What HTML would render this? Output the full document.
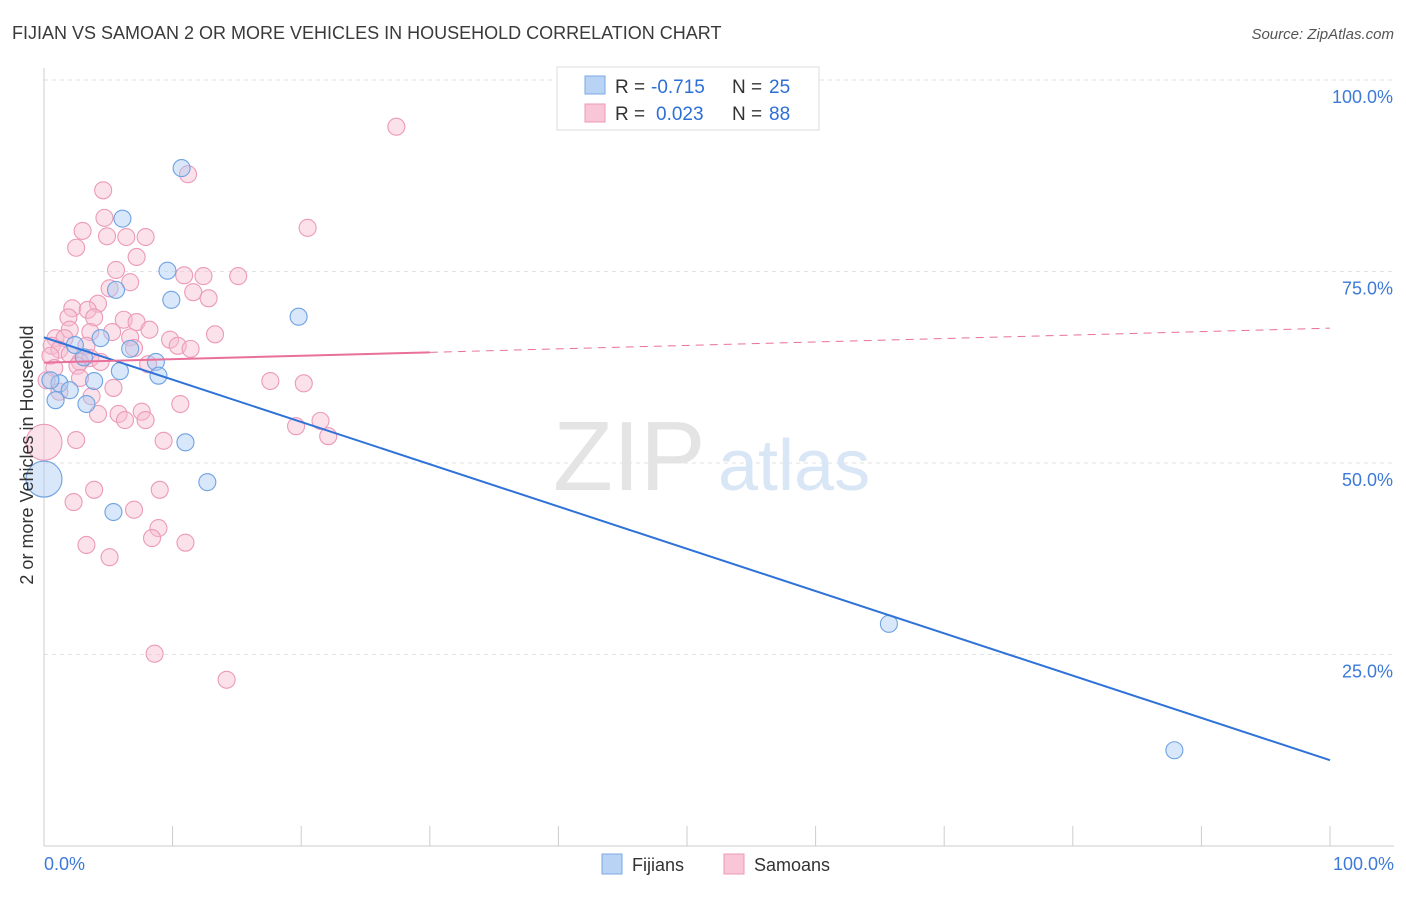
<!DOCTYPE html>
<html><head><meta charset="utf-8"><style>
body{margin:0;background:#fff;font-family:"Liberation Sans",sans-serif;}
svg text{font-family:"Liberation Sans",sans-serif;}
</style></head><body>
<svg id="chart" width="1406" height="892">
<text x="12" y="39" font-size="18" fill="#3a3a3a">FIJIAN VS SAMOAN 2 OR MORE VEHICLES IN HOUSEHOLD CORRELATION CHART</text>
<text x="1394" y="39" font-size="15" fill="#555" font-style="italic" text-anchor="end">Source: ZipAtlas.com</text>
<g id="grid"></g>
<g><text x="553" y="490" font-size="98" fill="#e4e4e4" font-family="Liberation Serif,serif">ZIP</text><text x="718" y="490" font-size="72" fill="#d8e6f6">atlas</text></g>
<g id="marks"></g>
<g id="lines"></g>
<text x="33" y="455" font-size="18" fill="#333" text-anchor="middle" transform="rotate(-90 33 455)">2 or more Vehicles in Household</text>
<rect x="557" y="67" width="262" height="63" fill="#fff" stroke="#ddd"/>
<rect x="585" y="76" width="20" height="18" fill="#b8d3f4" stroke="#7aa8e6"/>
<rect x="585" y="104" width="20" height="18" fill="#f8c6d6" stroke="#ec9ab6"/>
<g font-size="19">
<text x="615" y="93" fill="#333">R =</text><text x="651" y="93" fill="#2d6fd6">-0.715</text><text x="732" y="93" fill="#333">N =</text><text x="769" y="93" fill="#2d6fd6">25</text></g>
<g font-size="19">
<text x="615" y="120" fill="#333">R =</text><text x="656" y="120" fill="#2d6fd6">0.023</text><text x="732" y="120" fill="#333">N =</text><text x="769" y="120" fill="#2d6fd6">88</text></g>
<rect x="602" y="854" width="20" height="20" fill="#b8d3f4" stroke="#7aa8e6"/>
<text x="632" y="871" font-size="18" fill="#333">Fijians</text>
<rect x="724" y="854" width="20" height="20" fill="#f8c6d6" stroke="#ec9ab6"/>
<text x="754" y="871" font-size="18" fill="#333">Samoans</text>
</svg>
<script>
const yTicks=[25,50,75,100];
const yTickLabels=["25.0%","50.0%","75.0%","100.0%"];
const xTickLabels=["0.0%","100.0%"];
const fijianX=[6.1,10.7,9.6,5.6,9.9,19.8,4.4,6.7,8.7,8.9,5.9,3.9,1.2,2.0,0.9,3.3,11.0,12.7,5.4,0,65.7,87.9,3.1,2.4,0.5];
const fijianY=[81.9,88.5,75.1,72.6,71.3,69.1,66.3,64.9,63.2,61.4,62.0,60.7,60.4,59.5,58.2,57.7,52.7,47.5,43.6,47.9,29.0,12.5,63.8,65.4,60.8];
const samoanX=[27.4,11.2,4.6,4.7,20.5,3.0,4.9,6.4,7.9,2.5,7.2,5.6,10.9,12.4,15.1,6.7,5.1,11.6,12.8,4.2,2.2,3.4,1.9,3.9,6.2,7.2,8.2,2.0,5.3,3.6,13.3,6.7,9.8,0.9,1.6,0.6,3.3,10.4,11.4,7.0,1.2,2.0,0.5,3.6,2.8,4.4,8.1,0.8,2.6,0.2,2.8,17.6,20.2,5.4,3.7,1.2,10.6,5.8,7.6,4.2,6.3,7.9,21.5,19.6,22.1,9.3,0,2.5,3.9,9.0,2.3,7.0,8.9,8.4,11.0,3.3,5.1,8.6,14.2];
const samoanY=[93.9,87.7,85.6,82.0,80.7,80.3,79.6,79.5,79.5,78.1,76.9,75.2,74.5,74.4,74.4,73.6,72.8,72.3,71.5,70.8,70.2,70.0,69.0,69.0,68.7,68.4,67.4,67.4,67.1,67.1,66.8,66.4,66.1,66.3,66.3,65.3,65.3,65.3,64.9,65.0,64.8,64.2,64.0,63.7,63.2,63.2,62.9,62.4,62.7,60.8,61.1,60.7,60.4,59.8,58.7,59.3,57.7,56.4,56.7,56.4,55.6,55.6,55.5,54.8,53.5,52.9,52.7,53.0,46.5,46.5,44.9,43.9,41.5,40.2,39.6,39.3,37.7,25.1,21.7];
const fijianTrend=[66.4,11.2];
const samoanTrend=[63.1,67.6];
const NS="http://www.w3.org/2000/svg";
const sx=v=>44+v*12.86, sy=v=>846-v*7.66;
function mk(tag,attrs,parent){const e=document.createElementNS(NS,tag);for(const k in attrs)e.setAttribute(k,attrs[k]);parent.appendChild(e);return e;}
const grid=document.getElementById('grid');
yTicks.forEach((t,i)=>{
 const l=mk('line',{x1:44,x2:1394,y1:sy(t),y2:sy(t),stroke:'#e2e2e2','stroke-dasharray':'4,4'},grid);
 
 
 const tx=mk('text',{x:1393,y:sy(t)+23,'font-size':18,fill:'#3d7ad8','text-anchor':'end'},grid);
 tx.textContent=yTickLabels[i];
 
 
});
const ya=mk('line',{x1:44,x2:44,y1:68,y2:846,stroke:'#ccc'},grid);


const xa=mk('line',{x1:44,x2:1394,y1:846,y2:846,stroke:'#ccc'},grid);


for(let i=0;i<=10;i++){const t=mk('line',{x1:sx(i*10),x2:sx(i*10),y1:826,y2:846,stroke:'#ccc'},grid);
 
 }
[[0,'start',44],[100,'end',1394]].forEach((d,i)=>{const t=mk('text',{x:d[2],y:870,'font-size':18,fill:'#3d7ad8','text-anchor':d[1]},grid);t.textContent=xTickLabels[i];
 
 });
const marks=document.getElementById('marks');
function dots(X,Y,fill,stroke,name){X.forEach((x,i)=>{const big=x===0;
 const c=mk('circle',{cx:sx(x),cy:sy(Y[i]),r:big?18:8.5,fill:fill,'fill-opacity':0.45,stroke:stroke,'stroke-width':1.1},marks);
 
 });}
dots(samoanX,samoanY,'#f7bcd0','#ec9ab8','samoan-point');
dots(fijianX,fijianY,'#a9c9f2','#6fa2e2','fijian-point');
const lines=document.getElementById('lines');
const fl=mk('line',{x1:sx(0),y1:sy(fijianTrend[0]),x2:sx(100),y2:sy(fijianTrend[1]),stroke:'#2f72d8','stroke-width':2},lines);


const sAt=x=>samoanTrend[0]+(samoanTrend[1]-samoanTrend[0])*x/100;
const sl=mk('line',{x1:sx(0),y1:sy(sAt(0)),x2:sx(30),y2:sy(sAt(30)),stroke:'#e8709a','stroke-width':2},lines);


const sd=mk('line',{x1:sx(30),y1:sy(sAt(30)),x2:sx(100),y2:sy(sAt(100)),stroke:'#e8709a','stroke-width':1,'stroke-dasharray':'8,6'},lines);


</script>
</body></html>
